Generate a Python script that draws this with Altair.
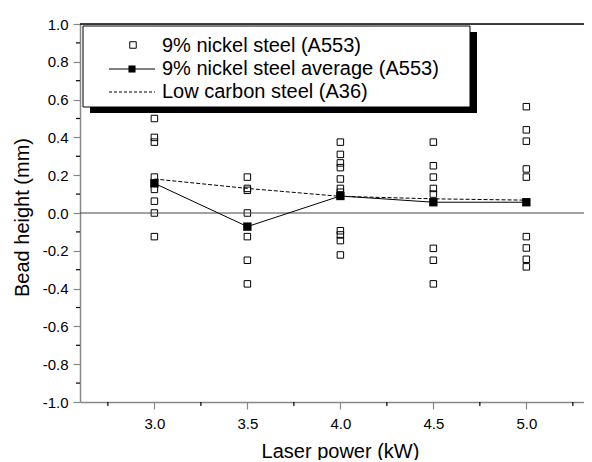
import altair as alt
import pandas as pd

# ---- data ----
powers = [3.0, 3.5, 4.0, 4.5, 5.0]
nickel_30 = [0.50, 0.40, 0.375, 0.19, 0.125, 0.0625, 0.0, -0.125]
nickel_35 = [0.19, 0.13, 0.12, 0.0, -0.125, -0.25, -0.375]
nickel_40 = [0.375, 0.31, 0.265, 0.24, 0.18, 0.13, 0.11, -0.094, -0.116, -0.146, -0.222]
nickel_45 = [0.375, 0.25, 0.19, 0.13, 0.10, -0.187, -0.25, -0.375]
nickel_50 = [0.5625, 0.44, 0.38, 0.233, 0.19, -0.125, -0.185, -0.245, -0.285]
nickel_avg = [0.157, -0.072, 0.09, 0.057, 0.057]
low_carbon = [0.18, 0.13, 0.088, 0.075, 0.068]

x_major = [3.0, 3.5, 4.0, 4.5, 5.0]
x_minor = [2.75, 3.25, 3.75, 4.25, 4.75, 5.25]
y_major = [-1.0, -0.8, -0.6, -0.4, -0.2, 0.0, 0.2, 0.4, 0.6, 0.8, 1.0]
y_minor = [-0.9, -0.7, -0.5, -0.3, -0.1, 0.1, 0.3, 0.5, 0.7, 0.9]

legend_labels = ["9% nickel steel (A553)",
                 "9% nickel steel average (A553)",
                 "Low carbon steel (A36)"]
x_title = "Laser power (kW)"
y_title = "Bead height (mm)"

# ---- tables ----
rows = []
for p, vals in zip(powers, [nickel_30, nickel_35, nickel_40, nickel_45, nickel_50]):
    for v in vals:
        rows.append({"power": p, "height": v})
pts = pd.DataFrame(rows)
avg_df = pd.DataFrame({"power": powers, "height": nickel_avg})
lc_df = pd.DataFrame({"power": powers, "height": low_carbon})
xminor_df = pd.DataFrame({"power": x_minor})
yminor_df = pd.DataFrame({"height": y_minor})

FONT = "Liberation Sans"
xs = alt.Scale(domain=[2.6, 5.31], nice=False, zero=False)
ys = alt.Scale(domain=[-1.0, 1.0], nice=False, zero=False)

lbl_expr = "datum.value < 0 ? '-' + format(-datum.value, '.1f') : format(datum.value, '.1f')"

x_axis = alt.Axis(values=x_major, labelExpr=lbl_expr, title=x_title, tickSize=7,
                  labelPadding=7, labelFontSize=15, titleFontSize=20,
                  titleFontWeight="normal", titleX=260, titleY=49,
                  titleAlign="center", titleBaseline="middle",
                  grid=False, domainWidth=1.5, tickWidth=1.2)
y_axis = alt.Axis(values=y_major, labelExpr=lbl_expr, title=y_title, tickSize=7,
                  labelPadding=5, labelFontSize=15, titleFontSize=20,
                  titleFontWeight="normal", titleX=-58, titleY=193,
                  titleAngle=-90, titleAlign="center", titleBaseline="middle",
                  grid=False, domainWidth=1.5, tickWidth=1.2)

X = alt.X("power:Q", scale=xs, axis=x_axis)
Y = alt.Y("height:Q", scale=ys, axis=y_axis)

points = alt.Chart(pts).mark_point(shape="square", filled=False, color="black",
                                   size=42, strokeWidth=1, opacity=1).encode(x=X, y=Y)

lc_line = alt.Chart(lc_df).mark_line(color="black", strokeWidth=1,
                                     strokeDash=[4, 2]).encode(x=X, y=Y)

avg_line = alt.Chart(avg_df).mark_line(color="black", strokeWidth=1).encode(x=X, y=Y)
avg_pts = alt.Chart(avg_df).mark_square(color="black", size=70, opacity=1).encode(x=X, y=Y)

zero_line = alt.Chart(pd.DataFrame({"height": [0.0]})).mark_rule(
    color="#444444", strokeWidth=1).encode(y=Y)
top_line = alt.Chart(pd.DataFrame({"height": [1.0]})).mark_rule(
    color="black", strokeWidth=1.5).encode(y=Y)

y_minor_ticks = alt.Chart(yminor_df).mark_rule(color="black", strokeWidth=1.2).encode(
    y=Y, x=alt.value(-4), x2=alt.value(0),
)
x_minor_ticks = alt.Chart(xminor_df).mark_rule(color="black", strokeWidth=1.2).encode(
    x=X, y=alt.value(378), y2=alt.value(382),
)

# ---- legend (drawn by hand) ----
one = pd.DataFrame({"a": [0]})
shadow = alt.Chart(one).mark_rect(color="black").encode(
    x=alt.value(10), x2=alt.value(397), y=alt.value(8), y2=alt.value(89))
box = alt.Chart(one).mark_rect(fill="white", stroke="black", strokeWidth=1).encode(
    x=alt.value(3), x2=alt.value(390), y=alt.value(2), y2=alt.value(83))

leg_sym1 = alt.Chart(one).mark_point(shape="square", filled=False, color="black",
                                     size=42, strokeWidth=1, opacity=1).encode(
    x=alt.value(53), y=alt.value(21))
leg_line2 = alt.Chart(one).mark_rule(color="black", strokeWidth=1).encode(
    x=alt.value(29), x2=alt.value(75), y=alt.value(45))
leg_sym2 = alt.Chart(one).mark_square(color="black", size=50, opacity=1).encode(
    x=alt.value(52), y=alt.value(45))
leg_line3 = alt.Chart(one).mark_rule(color="black", strokeWidth=1,
                                     strokeDash=[3, 2]).encode(
    x=alt.value(29), x2=alt.value(75), y=alt.value(68))

leg_texts = []
for lbl, yy in zip(legend_labels, [28, 51, 74]):
    leg_texts.append(
        alt.Chart(one).mark_text(text=lbl, font=FONT, fontSize=20, align="left",
                                 baseline="alphabetic", color="black").encode(
            x=alt.value(82), y=alt.value(yy))
    )

chart = alt.layer(
    points, zero_line, top_line, lc_line, avg_line, avg_pts,
    y_minor_ticks, x_minor_ticks,
    shadow, box, leg_sym1, leg_line2, leg_sym2, leg_line3, *leg_texts,
).properties(
    width=504, height=378,
    autosize=alt.AutoSizeParams(type="none"),
    padding={"left": 72, "top": 16, "right": 0, "bottom": 58},
).configure_view(stroke=None).configure_axis(
    labelFont=FONT, titleFont=FONT, labelColor="black", titleColor="black",
    domainColor="black", tickColor="black",
).configure(background="white")

chart.save("out.html", embed_options={"renderer": "svg", "actions": False})
